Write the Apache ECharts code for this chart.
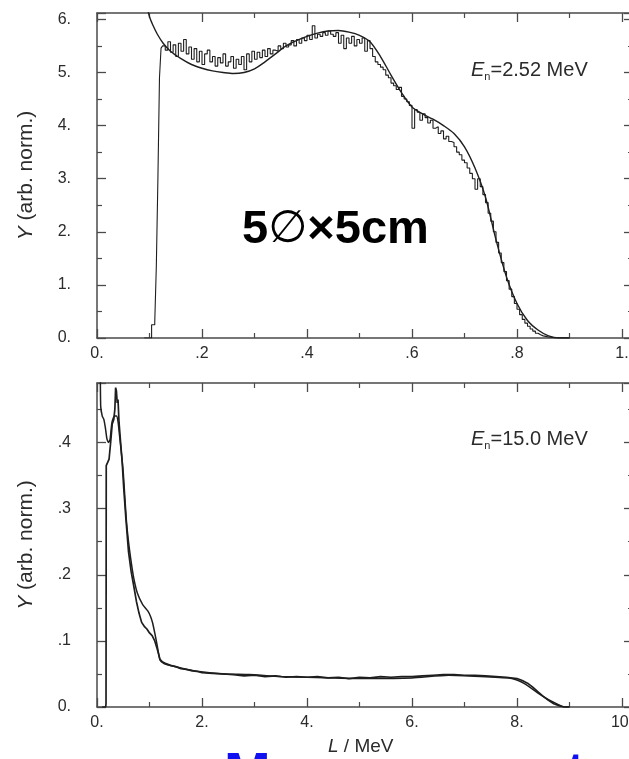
<!DOCTYPE html>
<html><head><meta charset="utf-8">
<script src="https://cdn.jsdelivr.net/npm/echarts@6/dist/echarts.min.js"></script>
<style>html,body{margin:0;padding:0;background:#fff}#c{width:629px;height:759px}</style>
</head><body><div id="c"></div>
<script>
// ---- tick labels ----
const topXTicks = ['0.', '.2', '.4', '.6', '.8', '1.'];
const topYTicks = ['0.', '1.', '2.', '3.', '4.', '5.', '6.'];
const botXTicks = ['0.', '2.', '4.', '6.', '8.', '10.'];
const botYTicks = ['0.', '.1', '.2', '.3', '.4'];

// ---- top panel (En = 2.52 MeV): measured histogram [L, Y] ----
const topExp = [
 [0.090,0],[0.100,0],[0.104,0.25],[0.110,0.3],[0.113,1.35],[0.116,3.0],[0.119,4.9],[0.122,5.46],
 [0.125,5.5],[0.130,5.42],[0.135,5.58],[0.140,5.38],[0.145,5.52],[0.150,5.3],[0.155,5.55],[0.160,5.4],
 [0.165,5.62],[0.170,5.35],[0.175,5.48],[0.180,5.25],[0.185,5.45],[0.190,5.2],[0.195,5.4],[0.200,5.15],
 [0.205,5.35],[0.210,5.42],[0.215,5.2],[0.220,5.3],[0.225,5.12],[0.230,5.28],[0.235,5.18],[0.240,5.35],
 [0.245,5.12],[0.250,5.2],[0.255,5.3],[0.260,5.08],[0.265,5.25],[0.270,5.15],[0.275,5.3],[0.280,5.05],
 [0.285,5.35],[0.290,5.2],[0.295,5.4],[0.300,5.25],[0.305,5.38],[0.310,5.28],[0.315,5.42],[0.320,5.3],
 [0.325,5.45],[0.330,5.35],[0.335,5.42],[0.340,5.4],[0.345,5.5],[0.350,5.45],[0.355,5.55],[0.360,5.48],
 [0.365,5.52],[0.370,5.6],[0.375,5.5],[0.380,5.62],[0.385,5.55],[0.390,5.65],[0.395,5.6],[0.400,5.7],
 [0.405,5.62],[0.410,5.88],[0.415,5.65],[0.420,5.72],[0.425,5.68],[0.430,5.75],[0.435,5.7],[0.440,5.78],
 [0.445,5.72],[0.450,5.68],[0.455,5.75],[0.460,5.55],[0.465,5.7],[0.470,5.45],[0.475,5.65],[0.480,5.55],
 [0.485,5.68],[0.490,5.5],[0.495,5.62],[0.500,5.55],[0.505,5.65],[0.510,5.4],[0.515,5.6],[0.520,5.45],
 [0.525,5.3],[0.530,5.2],[0.535,5.15],[0.540,5.1],[0.545,5.05],[0.550,4.95],[0.555,4.9],[0.560,4.8],
 [0.565,4.75],[0.570,4.68],[0.575,4.72],[0.580,4.55],[0.585,4.5],[0.590,4.45],[0.595,4.38],[0.600,3.95],
 [0.605,4.3],[0.610,4.25],[0.615,4.1],[0.620,4.22],[0.625,4.15],[0.630,4.05],[0.635,4.1],[0.640,3.95],
 [0.645,3.98],[0.650,3.85],[0.655,3.9],[0.660,3.75],[0.665,3.8],[0.670,3.7],[0.675,3.68],[0.680,3.6],
 [0.685,3.5],[0.690,3.45],[0.695,3.35],[0.700,3.3],[0.705,3.2],[0.710,3.1],[0.715,3.0],[0.720,2.8],
 [0.725,3.0],[0.730,2.85],[0.735,2.7],[0.740,2.55],[0.745,2.35],[0.750,2.2],[0.755,2.0],[0.760,1.8],
 [0.765,1.6],[0.770,1.42],[0.775,1.25],[0.780,1.08],[0.785,0.92],[0.790,0.78],[0.795,0.65],[0.800,0.54],
 [0.805,0.44],[0.810,0.35],[0.815,0.28],[0.820,0.22],[0.825,0.17],[0.830,0.13],[0.835,0.09],[0.840,0.06],
 [0.845,0.04],[0.850,0.03],[0.855,0.02],[0.860,0.01],[0.870,0],[0.900,0]
];
// ---- top panel: calculated response [L, Y] ----
const topSim = [
 [0.094,6.3],[0.100,6.05],[0.107,5.88],[0.115,5.72],[0.126,5.55],[0.140,5.4],[0.160,5.26],[0.180,5.15],
 [0.200,5.08],[0.220,5.03],[0.240,5.0],[0.260,4.98],[0.280,5.0],[0.300,5.07],[0.320,5.2],[0.340,5.35],
 [0.360,5.5],[0.380,5.6],[0.400,5.68],[0.420,5.74],[0.440,5.78],[0.460,5.79],[0.480,5.76],[0.500,5.7],
 [0.520,5.58],[0.540,5.3],[0.560,4.95],[0.580,4.62],[0.600,4.35],[0.620,4.22],[0.640,4.12],[0.660,4.0],
 [0.680,3.85],[0.700,3.6],[0.720,3.2],[0.740,2.65],[0.760,1.85],[0.780,1.15],[0.800,0.65],[0.820,0.33],
 [0.840,0.15],[0.860,0.04],[0.880,0],[0.900,0]
];
// ---- bottom panel (En = 15.0 MeV): measured [L, Y] ----
const botExp = [
 [0.10,0],[0.165,0],[0.172,0.005],[0.176,0.365],[0.20,0.368],[0.23,0.375],[0.26,0.40],[0.29,0.428],
 [0.32,0.435],[0.34,0.45],[0.355,0.483],[0.37,0.478],[0.385,0.46],[0.40,0.465],[0.42,0.43],[0.45,0.40],
 [0.48,0.37],[0.51,0.33],[0.55,0.285],[0.60,0.235],[0.65,0.205],[0.70,0.183],[0.75,0.16],[0.80,0.142],
 [0.85,0.128],[0.90,0.122],[0.95,0.118],[1.00,0.112],[1.05,0.108],[1.10,0.10],[1.15,0.087],[1.20,0.072],
 [1.25,0.068],[1.30,0.066],[1.40,0.063],[1.50,0.061],[1.60,0.058],[1.70,0.057],[1.80,0.055],[1.90,0.054],
 [2.0,0.052],[2.2,0.051],[2.4,0.050],[2.6,0.049],[2.8,0.047],[3.0,0.048],[3.2,0.046],[3.4,0.047],
 [3.6,0.045],[3.8,0.046],[4.0,0.045],[4.2,0.046],[4.4,0.044],[4.6,0.045],[4.8,0.043],[5.0,0.045],
 [5.2,0.044],[5.4,0.046],[5.6,0.045],[5.8,0.046],[6.0,0.046],[6.2,0.047],[6.4,0.048],[6.6,0.049],
 [6.8,0.049],[7.0,0.048],[7.2,0.048],[7.4,0.047],[7.6,0.046],[7.8,0.045],[8.0,0.043],[8.1,0.040],
 [8.2,0.036],[8.3,0.030],[8.4,0.023],[8.5,0.016],[8.6,0.010],[8.7,0.005],[8.8,0.002],[8.9,0],[9.0,0]
];
// ---- bottom panel: calculated [L, Y] ----
const botSim = [
 [0.060,0.56],[0.070,0.455],[0.10,0.44],[0.13,0.435],[0.16,0.422],[0.19,0.405],[0.22,0.40],[0.25,0.405],
 [0.28,0.428],[0.31,0.437],[0.34,0.44],[0.37,0.44],[0.40,0.432],[0.43,0.41],[0.47,0.38],[0.50,0.355],
 [0.53,0.318],[0.56,0.282],[0.60,0.25],[0.65,0.22],[0.70,0.195],[0.77,0.172],[0.87,0.155],[0.97,0.145],
 [1.02,0.137],[1.06,0.127],[1.10,0.112],[1.14,0.096],[1.20,0.071],[1.27,0.066],[1.34,0.064],[1.6,0.059],
 [1.9,0.054],[2.4,0.050],[2.9,0.049],[3.5,0.046],[4.5,0.044],[5.2,0.043],[6.0,0.044],[6.7,0.048],
 [7.3,0.046],[7.9,0.043],[8.15,0.035],[8.4,0.021],[8.6,0.011],[8.75,0.005],[8.9,0],[9.0,0]
];

const AX = '#4a4a4a';
const LBL = '#2b2b2b';
const FONT = 'Liberation Sans, Arial, sans-serif';

function fmt(labels, step) {
  return function (v) {
    const i = Math.round(v / step);
    if (Math.abs(v - i * step) > 1e-6) return '';
    return labels[i] !== undefined ? labels[i] : '';
  };
}
function xAx(grid, max, interval, labels, pos) {
  return {
    gridIndex: grid, type: 'value', min: 0, max: max, interval: interval, position: pos,
    axisLine: { show: true, onZero: false, lineStyle: { color: AX, width: 1.5 } },
    axisTick: { show: true, inside: true, length: 9, lineStyle: { color: AX, width: 1.3 } },
    minorTick: { show: true, splitNumber: 2, length: 5, lineStyle: { color: AX, width: 1.2 } },
    splitLine: { show: false }, minorSplitLine: { show: false },
    axisLabel: labels ? { show: true, margin: 8, color: LBL, fontSize: 16, fontFamily: FONT,
      formatter: fmt(labels, interval), showMaxLabel: false, hideOverlap: false } : { show: false }
  };
}
function yAx(grid, max, interval, labels, pos, name) {
  const o = {
    gridIndex: grid, type: 'value', min: 0, max: max, interval: interval, position: pos,
    axisLine: { show: true, onZero: false, lineStyle: { color: AX, width: 1.5 } },
    axisTick: { show: true, inside: true, length: 9, lineStyle: { color: AX, width: 1.3 } },
    minorTick: { show: true, splitNumber: 2, length: 5, lineStyle: { color: AX, width: 1.2 } },
    splitLine: { show: false }, minorSplitLine: { show: false },
    axisLabel: labels ? { show: true, margin: 26, color: LBL, fontSize: 16, fontFamily: FONT,
      formatter: fmt(labels, interval), showMaxLabel: false, hideOverlap: false } : { show: false }
  };
  if (name) {
    o.name = '{i|Y} (arb. norm.)';
    o.nameLocation = 'middle';
    o.nameGap = 60;
    o.nameTextStyle = { color: LBL, fontSize: 21, fontFamily: FONT,
      rich: { i: { fontStyle: 'italic', fontSize: 21, fontFamily: FONT, color: LBL } } };
  }
  return o;
}

const chart = echarts.init(document.getElementById('c'), null, { renderer: 'canvas' });
const lineS = (xi, yi, data, w, extra) => Object.assign({
  type: 'line', xAxisIndex: xi, yAxisIndex: yi, data: data, showSymbol: false, symbol: 'none',
  animation: false, silent: true, clip: true,
  lineStyle: { color: '#1e1e1e', width: w }
}, extra || {});

chart.setOption({
  backgroundColor: '#ffffff',
  animation: false,
  grid: [
    { left: 97, top: 13, width: 536, height: 325, containLabel: false, outerBoundsMode: 'none' },
    { left: 97, top: 383, width: 536, height: 324, containLabel: false, outerBoundsMode: 'none' }
  ],
  xAxis: [
    xAx(0, 1.02095, 0.2, topXTicks, 'bottom'),
    xAx(0, 1.02095, 0.2, null, 'top'),
    xAx(1, 10.2095, 2, botXTicks, 'bottom'),
    xAx(1, 10.2095, 2, null, 'top')
  ],
  yAxis: [
    yAx(0, 6.12, 1, topYTicks, 'left', true),
    yAx(0, 6.12, 1, null, 'right', false),
    yAx(1, 0.49, 0.1, botYTicks, 'left', true),
    yAx(1, 0.49, 0.1, null, 'right', false)
  ],
  series: [
    lineS(0, 0, topExp, 1.1, { step: 'end' }),
    lineS(0, 0, topSim, 1.4, { smooth: 0.3 }),
    lineS(2, 2, botExp, 1.7, {}),
    lineS(2, 2, botSim, 1.5, { smooth: 0.2 })
  ],
  graphic: [
    { type: 'text', left: 471, top: 60, silent: true, style: {
      text: '{e|E}{s|n}{t|=2.52 MeV}', fill: LBL,
      rich: { e: { fontStyle: 'italic', fontSize: 20, fontFamily: FONT, lineHeight: 24, fill: LBL },
              s: { fontSize: 11, fontFamily: FONT, verticalAlign: 'bottom', lineHeight: 12, fill: LBL },
              t: { fontSize: 20, fontFamily: FONT, lineHeight: 24, fill: LBL } } } },
    { type: 'text', left: 471, top: 429, silent: true, style: {
      text: '{e|E}{s|n}{t|=15.0 MeV}', fill: LBL,
      rich: { e: { fontStyle: 'italic', fontSize: 20, fontFamily: FONT, lineHeight: 24, fill: LBL },
              s: { fontSize: 11, fontFamily: FONT, verticalAlign: 'bottom', lineHeight: 12, fill: LBL },
              t: { fontSize: 20, fontFamily: FONT, lineHeight: 24, fill: LBL } } } },
    { type: 'text', left: 242, top: 207, silent: true, style: {
      text: '{b|5}{o|\u2205}{b|\u00d75cm}', fill: '#000',
      rich: { b: { fontWeight: 'bold', fontSize: 47, fontFamily: FONT, fill: '#000', lineHeight: 50 },
              o: { fontWeight: 'normal', fontSize: 45, fontFamily: 'DejaVu Sans, sans-serif', fill: '#000', lineHeight: 50 } } } },
    { type: 'text', left: 328, top: 737, silent: true, style: {
      text: '{i|L}{n| / MeV}', fill: LBL,
      rich: { i: { fontStyle: 'italic', fontSize: 19, fontFamily: FONT, fill: LBL },
              n: { fontSize: 19, fontFamily: FONT, fill: LBL } } } },
    { type: 'text', x: 224, y: 804, silent: true, style: {
      text: 'Measurement', fill: '#1010f0', font: 'bold 56px Liberation Sans, Arial, sans-serif',
      verticalAlign: 'bottom' } }
  ]
});
</script>
</body></html>
